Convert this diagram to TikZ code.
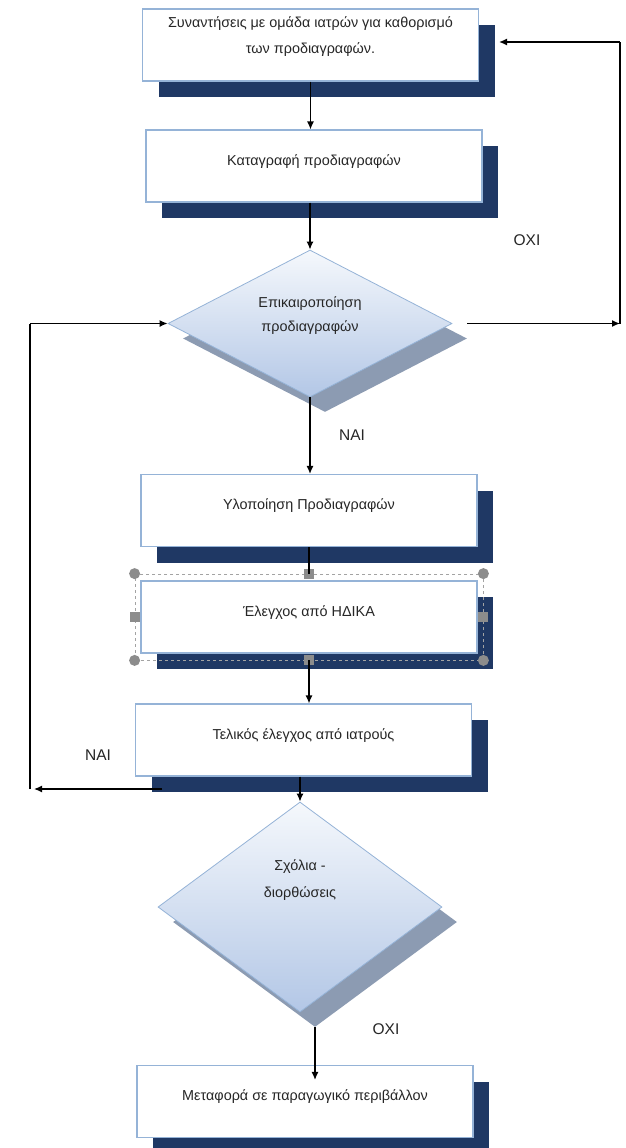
\documentclass[tikz,border=0pt]{standalone}
\usepackage{fontspec}
\setmainfont{Liberation Sans}
\usepackage{tikz}
\usetikzlibrary{shapes.geometric}
\usetikzlibrary{arrows.meta}
\usetikzlibrary{shadows}

\definecolor{boxline}{HTML}{95B3D7}
\definecolor{navy}{HTML}{1F3864}
\definecolor{diamtop}{HTML}{F5F8FC}
\definecolor{diambot}{HTML}{B3C7E6}
\definecolor{diamshade}{HTML}{8C9BB2}
\definecolor{handle}{HTML}{8C8C8C}
\definecolor{txt}{HTML}{262626}

\begin{document}
\begin{tikzpicture}[x=1pt,y=-1pt,
font=\fontsize{14.4}{26}\selectfont, text=txt,
stepbox/.style={draw=boxline, line width=1.1pt, fill=white,
  minimum width=336pt, minimum height=72pt, inner sep=0pt, align=center,
  text height=11pt, text depth=13pt,
  drop shadow={shadow xshift=16pt, shadow yshift=-16pt, fill=navy, opacity=1}},
decision/.style={diamond, draw=boxline, line width=0.8pt,
  top color=diamtop, bottom color=diambot, shape aspect=2,
  minimum width=284pt, inner sep=0pt, align=center,
  drop shadow={shadow xshift=15pt, shadow yshift=-15pt, fill=diamshade, opacity=1}},
selframe/.style={draw=handle!80, dashed, line width=0.8pt,
  minimum width=348pt, minimum height=86pt, inner sep=0pt},
hcirc/.style={circle, fill=handle, minimum size=11pt, inner sep=0pt},
hsq/.style={rectangle, fill=handle, minimum size=10pt, inner sep=0pt},
lbl/.style={font=\fontsize{15.5}{18}\selectfont},
conn/.style={line width=1.3pt, -{Latex[length=8pt,width=7pt]}},
plain/.style={line width=1.3pt}]
\path[use as bounding box, fill=white] (0,0) rectangle (626,1148);

\node[stepbox, text height=21pt, text depth=3pt] (spec) at (310.5,45) {Συναντήσεις με ομάδα ιατρών για καθορισμό\\των προδιαγραφών.};
\node[stepbox] (record) at (314,166) {Καταγραφή προδιαγραφών};
\node[decision, minimum height=147pt, text height=18pt, text depth=3pt] (update) at (310,323.5) {Επικαιροποίηση\\[-2pt]προδιαγραφών};
\node[stepbox] (impl) at (309,510.5) {Υλοποίηση Προδιαγραφών};
\node[stepbox] (hdika) at (309,617) {Έλεγχος από ΗΔΙΚΑ};
\node[selframe] (sel) at (309,617) {};
\foreach \a in {north west,north east,south west,south east}
  \node[hcirc] at (sel.\a) {};
\foreach \a in {north,south,east,west}
  \node[hsq] at (sel.\a) {};
\node[stepbox] (final) at (303.5,740) {Τελικός έλεγχος από ιατρούς};
\node[decision, minimum height=210pt, text height=11pt, text depth=30pt] (cmt) at (300,907) {Σχόλια -\\[1pt]διορθώσεις};
\node[stepbox] (prod) at (305,1101.5) {Μεταφορά σε παραγωγικό περιβάλλον};

\node[lbl] (no1) at (527,240) {ΟΧΙ};
\node[lbl] (yes1) at (352,435) {ΝΑΙ};
\node[lbl] (yes2) at (98,755) {ΝΑΙ};
\node[lbl] (no2) at (386,1029) {ΟΧΙ};

\coordinate (r1) at (620,323.5);
\coordinate (r2) at (620,42);
\coordinate (l0) at (162,789);
\coordinate (l1) at (34,789);
\coordinate (l2) at (30,789);
\coordinate (l3) at (30,323.5);

\draw[conn] (spec.south) -- (spec.south |- record.north);
\draw[conn] (update.north |- record.south) -- (update.north);
\draw[conn] (update.south) -- (update.south |- impl.north);
\draw[plain] (impl.south) -- (sel.north);
\draw[conn] (sel.south) -- (sel.south |- final.north);
\draw[conn] (cmt.north |- final.south) -- (cmt.north);
\draw[conn] ([shift={(15pt,-15pt)}]cmt.south) -- ([shift={(15pt,-15pt)}]cmt.south |- prod.north);
\draw[conn] ([xshift=15pt]update.east) -- (r1);
\draw[plain] (r1) -- (r2);
\draw[conn] (r2) -- ([xshift=20pt]spec.east |- r2);
\draw[conn] (l0) -- (l1);
\draw[plain] (l2) -- (l3);
\draw[conn] (l3) -- (update.west);
\end{tikzpicture}
\end{document}
